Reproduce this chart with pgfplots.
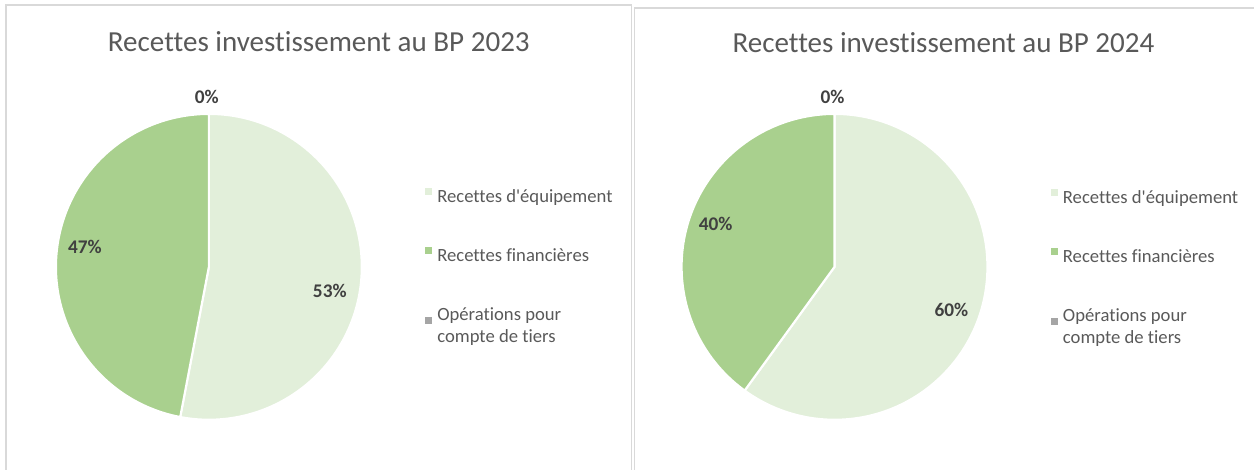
\documentclass[border=0pt]{standalone}
\usepackage{pgfplots}
\pgfplotsset{compat=1.18}
\usepackage{pgfplotstable}
\usepackage{fontspec}
\setmainfont{Carlito}[Ligatures={TeX,NoCommon}]

\definecolor{equip}{HTML}{E2EFDA}
\definecolor{fin}{HTML}{A9D08E}
\definecolor{tiers}{HTML}{A5A5A5}
\definecolor{txt}{HTML}{595959}
\definecolor{lbl}{HTML}{404040}
\definecolor{cadre}{HTML}{D9D9D9}

% parts in percent, slices start at 12 o'clock, clockwise
\pgfplotstableread{
serie valeur
equip 53
fin   47
tiers 0
}\bpA
\pgfplotstableread{
serie valeur
equip 60
fin   40
tiers 0
}\bpB

% 1 px of the screenshot = 0.75pt
\pgfplotsset{
  panneau/.style={
    x=0.75pt, y=0.75pt, xmin=0, xmax=1255, ymin=0, ymax=470,
    hide axis, clip=false, scale only axis,
    at={(0,0)}, anchor=origin,
    legend style={draw=none, fill=none, inner sep=0pt, row sep=29pt,
      font=\fontsize{14}{16.5}\selectfont, text=txt,
      cells={anchor=west, align=left}},
    legend image code/.code={\fill[##1, draw=none] (0pt,1.4pt) rectangle (5.2pt,6.6pt);},
  },
}
\tikzset{
  part/.style={draw=white, line width=1.6pt},
  etiq/.style={anchor=base, text=lbl, font=\fontsize{14.5}{16}\selectfont\bfseries},
  titre/.style={anchor=base, text=txt, font=\fontsize{21.8}{26}\selectfont},
}

\begin{document}
\begin{tikzpicture}
\pgfplotstablegetelem{0}{valeur}\of\bpA \let\vaA\pgfplotsretval
\pgfplotstablegetelem{1}{valeur}\of\bpA \let\vbA\pgfplotsretval
\pgfmathsetmacro\angA{90-3.6*\vaA}
\pgfmathsetmacro\angAA{\angA-3.6*\vbA}
\pgfplotstablegetelem{0}{valeur}\of\bpB \let\vaB\pgfplotsretval
\pgfplotstablegetelem{1}{valeur}\of\bpB \let\vbB\pgfplotsretval
\pgfmathsetmacro\angB{90-3.6*\vaB}
\pgfmathsetmacro\angBB{\angB-3.6*\vbB}

\begin{axis}[panneau,
    legend style={at={(425/1255,1-187/470)}, anchor=north west}]
  \path (axis cs:0,0) rectangle (axis cs:1255,470);
  \draw[cadre, line width=1.1pt] (axis cs:6,0) -- (axis cs:6,465) -- (axis cs:632,465) -- (axis cs:632,0);
  \node[titre] at (axis cs:319,418) {Recettes investissement au BP 2023};
  \fill[equip, part] (axis cs:209,203) -- ++(90:114.75pt)
    arc[start angle=90, end angle=\angA, radius=114.75pt] -- cycle;
  \fill[fin, part] (axis cs:209,203) -- ++(\angA:114.75pt)
    arc[start angle=\angA, end angle=\angAA, radius=114.75pt] -- cycle;
  \node[etiq] at (axis cs:330,172) {53\%};
  \node[etiq] at (axis cs:85,216) {47\%};
  \node[etiq] at (axis cs:207,366) {0\%};
  \addlegendimage{fill=equip}
  \addlegendentry{\hspace{2pt}Recettes d\textquotesingle équipement}
  \addlegendimage{fill=fin}
  \addlegendentry{\hspace{2pt}Recettes financières}
  \addlegendimage{fill=tiers}
  \addlegendentry{\hspace{2pt}Opérations pour\\\hspace{2pt}compte de tiers}
\end{axis}

\begin{axis}[panneau,
    legend style={at={(1051/1255,1-188/470)}, anchor=north west}]
  \draw[cadre, line width=1.1pt] (axis cs:635,0) -- (axis cs:635,462) -- (axis cs:1255,462);
  \node[titre] at (axis cs:944,417) {Recettes investissement au BP 2024};
  \fill[equip, part] (axis cs:835,203) -- ++(90:114.75pt)
    arc[start angle=90, end angle=\angB, radius=114.75pt] -- cycle;
  \fill[fin, part] (axis cs:835,203) -- ++(\angB:114.75pt)
    arc[start angle=\angB, end angle=\angBB, radius=114.75pt] -- cycle;
  \node[etiq] at (axis cs:952,153) {60\%};
  \node[etiq] at (axis cs:716,239) {40\%};
  \node[etiq] at (axis cs:833,366) {0\%};
  \addlegendimage{fill=equip}
  \addlegendentry{\hspace{2pt}Recettes d\textquotesingle équipement}
  \addlegendimage{fill=fin}
  \addlegendentry{\hspace{2pt}Recettes financières}
  \addlegendimage{fill=tiers}
  \addlegendentry{\hspace{2pt}Opérations pour\\\hspace{2pt}compte de tiers}
\end{axis}
\end{tikzpicture}
\end{document}
